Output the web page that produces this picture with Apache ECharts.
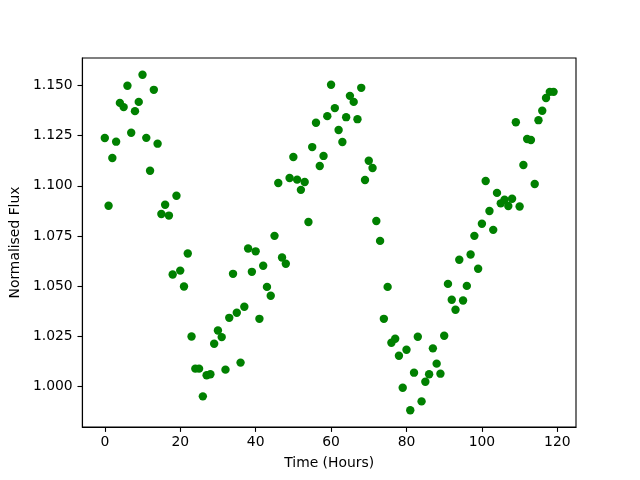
<!DOCTYPE html>
<html>
<head>
<meta charset="utf-8">
<script src="https://cdn.jsdelivr.net/npm/echarts@6/dist/echarts.min.js"></script>
<style>html,body{margin:0;padding:0;background:#fff}#c{width:640px;height:480px}</style>
</head>
<body>
<div id="c"></div>
<script>
const hours = [];
for (let i = 0; i < 120; i++) hours.push(i);
const flux = [
  1.1238, 1.0901, 1.1139, 1.1220, 1.1413, 1.1392, 1.1498, 1.1264, 1.1372, 1.1418,
  1.1553, 1.1239, 1.1075, 1.1478, 1.1210, 1.0860, 1.0906, 1.0852, 1.0559, 1.0951,
  1.0578, 1.0499, 1.0663, 1.0250, 1.0090, 1.0090, 0.9952, 1.0057, 1.0062, 1.0214,
  1.0280, 1.0247, 1.0085, 1.0343, 1.0562, 1.0368, 1.0120, 1.0398, 1.0688, 1.0572,
  1.0674, 1.0338, 1.0602, 1.0497, 1.0453, 1.0751, 1.1014, 1.0643, 1.0612, 1.1039,
  1.1144, 1.1031, 1.0980, 1.1019, 1.0820, 1.1193, 1.1314, 1.1099, 1.1149, 1.1347,
  1.1503, 1.1387, 1.1278, 1.1218, 1.1342, 1.1448, 1.1418, 1.1332, 1.1488, 1.1029,
  1.1125, 1.1089, 1.0825, 1.0726, 1.0338, 1.0497, 1.0219, 1.0239, 1.0154, 0.9995,
  1.0184, 0.9883, 1.0070, 1.0249, 0.9927, 1.0025, 1.0062, 1.0191, 1.0115, 1.0065,
  1.0254, 1.0512, 1.0433, 1.0383, 1.0632, 1.0429, 1.0502, 1.0658, 1.0751, 1.0587,
  1.0811, 1.1024, 1.0875, 1.0781, 1.0965, 1.0913, 1.0931, 1.0900, 1.0936, 1.1317,
  1.0897, 1.1104, 1.1233, 1.1228, 1.1009, 1.1327, 1.1374, 1.1437, 1.1468, 1.1468
];
const xTicks = [0, 20, 40, 60, 80, 100, 120];
const yTicks = [1.000, 1.025, 1.050, 1.075, 1.100, 1.125, 1.150];

const xMinD = Math.min(...hours), xMaxD = Math.max(...hours);
const yMinD = Math.min(...flux), yMaxD = Math.max(...flux);
const xr = xMaxD - xMinD, yr = yMaxD - yMinD;

const font = 'DejaVu Sans';
const chart = echarts.init(document.getElementById('c'), null, {renderer: 'canvas'});
chart.setOption({
  animation: false,
  backgroundColor: '#fff',
  grid: {left: 80, right: 64, top: 58, bottom: 53, show: true, borderColor: '#000', borderWidth: 1.1, backgroundColor: 'transparent', containLabel: false},
  xAxis: {
    type: 'value',
    min: xMinD - 0.05 * xr,
    max: xMaxD + 0.05 * xr,
    name: 'Time (Hours)',
    nameLocation: 'middle',
    nameGap: 29,
    nameTextStyle: {fontFamily: font, fontSize: 13.9, color: '#000'},
    axisLine: {show: true, onZero: false, lineStyle: {color: '#000', width: 1.1}},
    axisTick: {show: true, inside: false, length: 4.9, lineStyle: {color: '#000', width: 1.1}, customValues: xTicks},
    axisLabel: {show: true, margin: 8, fontFamily: font, fontSize: 13.9, color: '#000', customValues: xTicks, formatter: v => String(v)},
    splitLine: {show: false}
  },
  yAxis: {
    type: 'value',
    min: yMinD - 0.05 * yr,
    max: yMaxD + 0.05 * yr,
    name: 'Normalised Flux',
    nameLocation: 'middle',
    nameGap: 54,
    nameTextStyle: {fontFamily: font, fontSize: 13.9, color: '#000'},
    axisLine: {show: true, onZero: false, lineStyle: {color: '#000', width: 1.1}},
    axisTick: {show: true, inside: false, length: 4.9, lineStyle: {color: '#000', width: 1.1}, customValues: yTicks},
    axisLabel: {show: true, margin: 9.7, fontFamily: font, fontSize: 13.9, color: '#000', customValues: yTicks, formatter: v => v.toFixed(3)},
    splitLine: {show: false}
  },
  series: [{
    type: 'scatter',
    data: hours.map((h, i) => [h, flux[i]]),
    symbol: 'circle',
    symbolSize: 8.4,
    itemStyle: {color: '#008000', opacity: 1},
    emphasis: {disabled: true}
  }]
});
</script>
</body>
</html>
